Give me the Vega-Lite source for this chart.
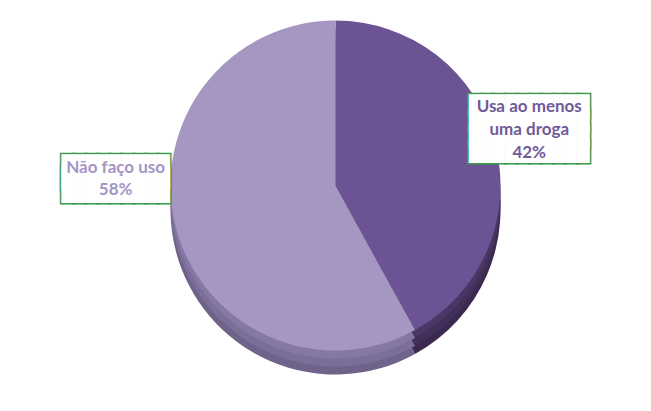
{
  "$schema": "https://vega.github.io/schema/vega-lite/v6.json",
  "width": 651,
  "height": 411,
  "autosize": {"type": "fit", "contains": "padding"},
  "padding": {"top": 0, "bottom": 40, "left": 20, "right": 0},
  "background": "white",
  "config": {"view": {"stroke": null}},
  "data": {
    "values": [
      {"cat": "Usa ao menos uma droga", "value": 42, "ord": 1, "label": ["Usa ao menos", "uma droga", "42%"]},
      {"cat": "Não faço uso", "value": 58, "ord": 2, "label": ["Não faço uso", "58%"]}
    ]
  },
  "encoding": {
    "theta": {"field": "value", "type": "quantitative", "stack": true},
    "order": {"field": "ord", "type": "quantitative"}
  },
  "layer": [
    {
      "mark": {"type": "arc", "outerRadius": 165, "yOffset": 24},
      "encoding": {
        "color": {"field": "cat", "type": "nominal", "legend": null,
          "scale": {"domain": ["Usa ao menos uma droga", "Não faço uso"], "range": ["#3b2950", "#70638a"]}}
      }
    },
    {
      "mark": {"type": "arc", "outerRadius": 165, "yOffset": 16},
      "encoding": {
        "color": {"field": "cat", "type": "nominal", "legend": null,
          "scale": {"domain": ["Usa ao menos uma droga", "Não faço uso"], "range": ["#42305a", "#7b6e98"]}}
      }
    },
    {
      "mark": {"type": "arc", "outerRadius": 165, "yOffset": 8},
      "encoding": {
        "color": {"field": "cat", "type": "nominal", "legend": null,
          "scale": {"domain": ["Usa ao menos uma droga", "Não faço uso"], "range": ["#4a3765", "#8678a5"]}}
      }
    },
    {
      "mark": {"type": "arc", "outerRadius": 165},
      "encoding": {
        "color": {"field": "cat", "type": "nominal", "legend": null,
          "scale": {"domain": ["Usa ao menos uma droga", "Não faço uso"], "range": ["#6c5394", "#a596c2"]}}
      }
    },
    {
      "mark": {"type": "text", "radius": 200, "yOffset": -29, "font": "DejaVu Sans Mono", "fontSize": 20, "lineHeight": 15, "baseline": "middle", "align": "center",
        "fill": "white", "stroke": "#3c9a4c", "strokeWidth": 3,
        "text": ["██████████", "██████████", "██████████", "██████████"]},
      "encoding": {"opacity": {"condition": {"test": "datum.ord == 1", "value": 1}, "value": 0}}
    },
    {
      "mark": {"type": "text", "radius": 200, "yOffset": -29, "font": "DejaVu Sans Mono", "fontSize": 20, "lineHeight": 15, "baseline": "middle", "align": "center",
        "fill": "white",
        "text": ["██████████", "██████████", "██████████", "██████████"]},
      "encoding": {"opacity": {"condition": {"test": "datum.ord == 1", "value": 1}, "value": 0}}
    },
    {
      "mark": {"type": "text", "radius": 227, "yOffset": -75, "font": "DejaVu Sans Mono", "fontSize": 20, "lineHeight": 12.5, "baseline": "middle", "align": "center",
        "fill": "white", "stroke": "#3c9a4c", "strokeWidth": 3,
        "text": ["█████████", "█████████", "█████████"]},
      "encoding": {"opacity": {"condition": {"test": "datum.ord == 2", "value": 1}, "value": 0}}
    },
    {
      "mark": {"type": "text", "radius": 227, "yOffset": -75, "font": "DejaVu Sans Mono", "fontSize": 20, "lineHeight": 12.5, "baseline": "middle", "align": "center",
        "fill": "white",
        "text": ["█████████", "█████████", "█████████"]},
      "encoding": {"opacity": {"condition": {"test": "datum.ord == 2", "value": 1}, "value": 0}}
    },
    {
      "mark": {"type": "text", "radius": 200, "yOffset": -29, "font": "Lato", "fontWeight": "bold", "fontSize": 17, "lineHeight": 23, "fill": "#6f5a9a", "baseline": "middle", "align": "center"},
      "encoding": {
        "text": {"field": "label"},
        "opacity": {"condition": {"test": "datum.ord == 1", "value": 1}, "value": 0}
      }
    },
    {
      "mark": {"type": "text", "radius": 227, "yOffset": -74, "font": "Lato", "fontWeight": "bold", "fontSize": 17, "lineHeight": 22, "fill": "#a395c4", "baseline": "middle", "align": "center"},
      "encoding": {
        "text": {"field": "label"},
        "opacity": {"condition": {"test": "datum.ord == 2", "value": 1}, "value": 0}
      }
    }
  ],
  "resolve": {"scale": {"color": "independent"}}
}
